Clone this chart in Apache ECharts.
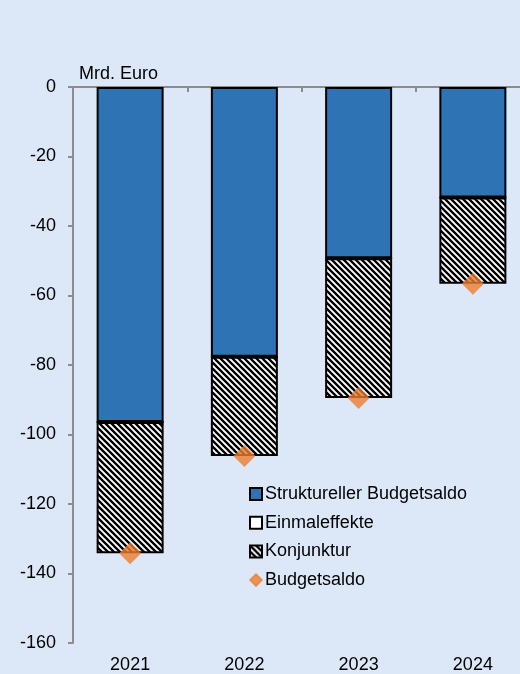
<!DOCTYPE html>
<html>
<head>
<meta charset="utf-8">
<script src="https://cdn.jsdelivr.net/npm/echarts@6/dist/echarts.min.js"></script>
<style>
  html, body { margin: 0; padding: 0; background: #DCE8F8; }
  #chart { width: 520px; height: 674px; }
</style>
</head>
<body>
<div id="chart"></div>
<script>
// Budgetsaldo und seine Komponenten (Mrd. Euro)
var years = ['2021', '2022', '2023', '2024'];
var structuralBalance = [-96.4, -77.6, -49.3, -31.8];
var oneOffEffects = [0, 0, 0, 0];
var cyclicalComponent = [-37.8, -28.6, -40.2, -24.8];
var budgetBalance = [-134.2, -106.2, -89.5, -56.6];
var yTicks = { min: -160, max: 0, interval: 20 };

// diagonal black/white hatching for the cyclical component
function hatchPattern() {
  var s = 6;
  var c = document.createElement('canvas');
  c.width = s; c.height = s;
  var g = c.getContext('2d');
  g.fillStyle = '#ffffff';
  g.fillRect(0, 0, s, s);
  g.strokeStyle = '#000000';
  g.lineWidth = 2.3;
  g.beginPath();
  g.moveTo(-s, 0); g.lineTo(s, 2 * s);
  g.moveTo(0, 0); g.lineTo(s, s);
  g.moveTo(0, -s); g.lineTo(2 * s, s);
  g.moveTo(-s, -s); g.lineTo(s, s);
  g.stroke();
  return c;
}

var font = 'Liberation Sans, Arial, sans-serif';
var chart = echarts.init(document.getElementById('chart'), null, { renderer: 'canvas' });

chart.setOption({
  backgroundColor: '#DCE8F8',
  animation: false,
  textStyle: { fontFamily: font },
  title: {
    text: 'Mrd. Euro',
    left: 79, top: 65,
    padding: 0,
    textStyle: { fontFamily: font, fontSize: 18, fontWeight: 'normal', color: '#000' }
  },
  // the last category runs past the right edge of the page
  grid: { left: 73, top: 87, width: 457, bottom: 31, containLabel: false, outerBoundsMode: 'none' },
  legend: {
    orient: 'vertical',
    left: 249, top: 485,
    padding: 0,
    itemWidth: 12, itemHeight: 12,
    itemGap: 10.7,
    textStyle: { fontFamily: font, fontSize: 18, color: '#000', padding: [0, 0, 0, -2] },
    data: [
      { name: 'Struktureller Budgetsaldo', icon: 'rect' },
      { name: 'Einmaleffekte', icon: 'rect' },
      { name: 'Konjunktur', icon: 'rect' },
      { name: 'Budgetsaldo', icon: 'diamond',
        itemStyle: { color: '#ED7D31', borderColor: '#ED7D31', borderWidth: 1.5 } }
    ]
  },
  xAxis: [
    {
      type: 'category',
      data: years,
      position: 'bottom',
      axisLine: { show: false },
      axisTick: { show: false },
      axisLabel: { fontFamily: font, fontSize: 18, color: '#000', margin: 13 }
    },
    {
      type: 'category',
      data: years,
      position: 'top',
      axisLine: { show: true, onZero: false, lineStyle: { color: '#8C8C8C', width: 2 } },
      axisTick: { show: true, inside: true, length: 5, lineStyle: { color: '#8C8C8C', width: 2 } },
      axisLabel: { show: false }
    }
  ],
  yAxis: {
    type: 'value',
    min: yTicks.min, max: yTicks.max, interval: yTicks.interval,
    axisLine: { show: true, onZero: false, lineStyle: { color: '#8C8C8C', width: 2 } },
    axisTick: { show: true, length: 5, lineStyle: { color: '#8C8C8C', width: 2 } },
    splitLine: { show: false },
    axisLabel: { fontFamily: font, fontSize: 18, color: '#000', margin: 17 }
  },
  series: [
    {
      name: 'Struktureller Budgetsaldo',
      type: 'bar',
      stack: 'saldo',
      barWidth: 67,
      data: structuralBalance,
      itemStyle: { color: '#2E74B5', borderColor: '#000', borderWidth: 2 }
    },
    {
      name: 'Einmaleffekte',
      type: 'bar',
      stack: 'saldo',
      barWidth: 67,
      data: oneOffEffects,
      itemStyle: { color: '#ffffff', borderColor: '#000', borderWidth: 2 }
    },
    {
      name: 'Konjunktur',
      type: 'bar',
      stack: 'saldo',
      barWidth: 67,
      data: cyclicalComponent,
      itemStyle: {
        color: { image: hatchPattern(), repeat: 'repeat' },
        borderColor: '#000', borderWidth: 2
      }
    },
    {
      name: 'Budgetsaldo',
      type: 'scatter',
      symbol: 'diamond',
      symbolSize: 22,
      data: budgetBalance,
      itemStyle: { color: '#ED7D31' },
      z: 5
    }
  ]
});
</script>
</body>
</html>
